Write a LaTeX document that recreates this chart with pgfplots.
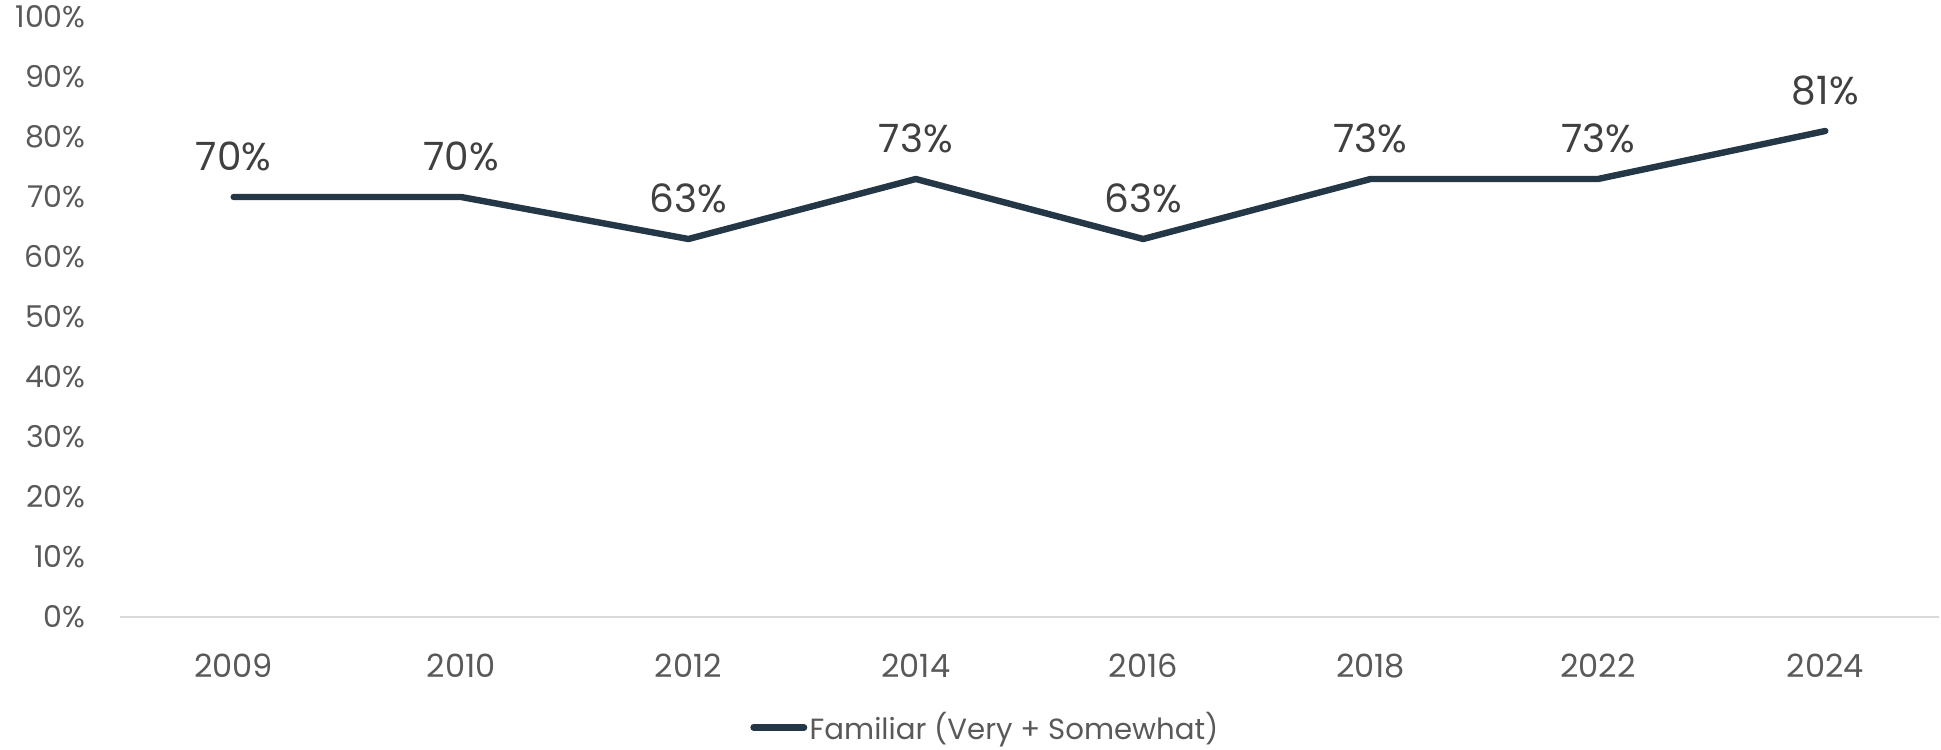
\documentclass[border=0pt]{standalone}
\usepackage{pgfplots}
\pgfplotsset{compat=1.18}
\usepackage{fontspec}
\setmainfont{Poppins}
\definecolor{lineblue}{HTML}{243746}
\definecolor{ticktext}{HTML}{595959}
\definecolor{labeltext}{HTML}{404040}
\definecolor{axisgray}{HTML}{D9D9D9}

\begin{document}
\begin{tikzpicture}
\begin{axis}[
  name=ax,
  scale only axis, width=909.5pt, height=300pt,
  xmin=-0.5, xmax=7.5, ymin=0, ymax=100,
  axis x line*=bottom, axis y line*=left,
  x axis line style={draw=axisgray, line width=1pt, -},
  y axis line style={draw=none},
  major tick length=0pt,
  xtick={0,...,7}, xticklabels={2009,2010,2012,2014,2016,2018,2022,2024},
  ytick={0,10,...,100},
  yticklabel={\pgfmathprintnumber{\tick}\%},
  /pgf/number format/assume math mode=true,
  x tick label style={font=\fontsize{16}{18}\selectfont, text=ticktext, anchor=center, yshift=-24.5pt},
  y tick label style={font=\fontsize{15}{17}\selectfont, text=ticktext, anchor=east, inner sep=0pt, xshift=-17pt},
  nodes near coords={\pgfmathprintnumber{\pgfplotspointmeta}\%},
  nodes near coords style={font=\fontsize{19.5}{21}\selectfont, text=labeltext, anchor=center, yshift=20.3pt},
  legend style={at={(axis description cs:0.3463,-0.184)}, anchor=west, draw=none, fill=none,
    inner sep=0pt, font=\fontsize{14.6}{16}\selectfont, text=ticktext,
    nodes={inner sep=1.2pt}},
  legend image code/.code={\draw[line width=3.3pt, line cap=round, lineblue] (1.65pt,0pt) -- (26.85pt,0pt);},
  clip=false,
]
\addplot[line width=3.2pt, color=lineblue, line cap=round, line join=round, mark=none]
  coordinates {(0,70) (1,70) (2,63) (3,73) (4,63) (5,73) (6,73) (7,81)};
\addlegendentry{Familiar (Very + Somewhat)}
\end{axis}
\pgfresetboundingbox
\path ([xshift=-60pt,yshift=-66pt]ax.south west) rectangle ([xshift=1pt,yshift=8.5pt]ax.north east);
\end{tikzpicture}
\end{document}
